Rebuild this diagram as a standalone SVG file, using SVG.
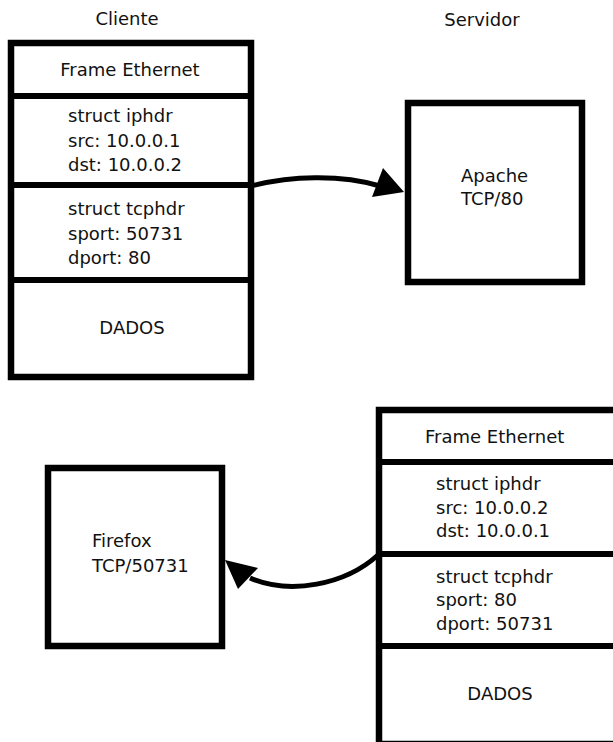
<svg xmlns="http://www.w3.org/2000/svg" width="613" height="742" viewBox="0 0 613 742">
<style>
  text { font-family: "DejaVu Sans", "Liberation Sans", sans-serif; font-size: 18px; fill: #111; }
  .c { text-anchor: middle; }
  .box { fill: #fff; stroke: #000; stroke-width: 6.5; }
  .div { stroke: #000; stroke-width: 6; }
  .conn { fill: none; stroke: #000; stroke-width: 5; }
  .head { fill: #000; stroke: none; }
</style>
<rect width="613" height="742" fill="#fff"/>

<g id="label-cliente"><text class="c" x="127" y="25">Cliente</text></g>
<g id="label-servidor"><text class="c" x="482" y="26">Servidor</text></g>

<g id="packet-client">
  <rect class="box" x="11" y="43" width="240" height="334"/>
  <line class="div" x1="11" y1="96" x2="251" y2="96"/>
  <line class="div" x1="11" y1="185" x2="251" y2="185"/>
  <line class="div" x1="11" y1="280" x2="251" y2="280"/>
  <text class="c" x="130" y="76">Frame Ethernet</text>
  <text x="68" y="122">struct iphdr</text>
  <text x="68" y="147">src: 10.0.0.1</text>
  <text x="68" y="171">dst: 10.0.0.2</text>
  <text x="68" y="215">struct tcphdr</text>
  <text x="68" y="240">sport: 50731</text>
  <text x="68" y="264">dport: 80</text>
  <text class="c" x="132" y="334">DADOS</text>
</g>

<g id="apache">
  <rect class="box" x="408" y="103" width="174" height="179"/>
  <text x="461" y="182">Apache</text>
  <text x="461" y="205">TCP/80</text>
</g>

<g id="firefox">
  <rect class="box" x="48" y="468" width="174" height="178"/>
  <text x="92" y="547">Firefox</text>
  <text x="92" y="572">TCP/50731</text>
</g>

<g id="packet-server">
  <rect class="box" x="379" y="410" width="250" height="334"/>
  <line class="div" x1="379" y1="462" x2="629" y2="462"/>
  <line class="div" x1="379" y1="554" x2="629" y2="554"/>
  <line class="div" x1="379" y1="646" x2="629" y2="646"/>
  <text x="425" y="443">Frame Ethernet</text>
  <text x="436" y="490">struct iphdr</text>
  <text x="436" y="514">src: 10.0.0.2</text>
  <text x="436" y="537">dst: 10.0.0.1</text>
  <text x="436" y="583">struct tcphdr</text>
  <text x="436" y="606">sport: 80</text>
  <text x="436" y="630">dport: 50731</text>
  <text class="c" x="500" y="700">DADOS</text>
</g>

<g id="connectors">
  <path class="conn" d="M 251 186 C 290 176, 340 174, 380 186"/>
  <polygon class="head" points="404,192 372,197 383,168"/>
  <path class="conn" d="M 378 555 C 345 585, 290 595, 250 578"/>
  <polygon class="head" points="225,560 238,589 258,568"/>
</g>
</svg>
